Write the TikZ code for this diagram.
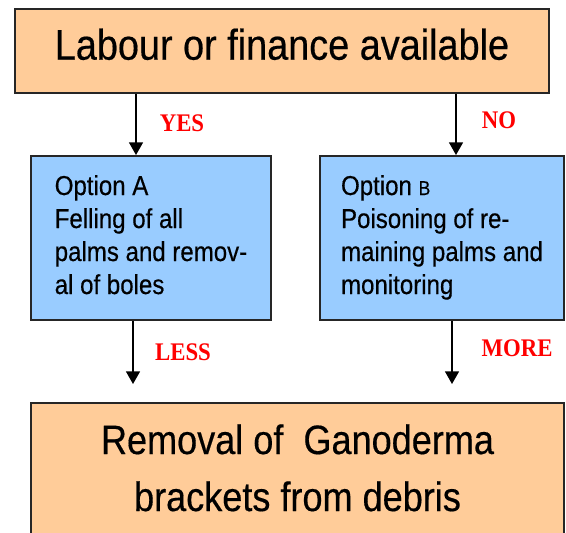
\documentclass[tikz,border=0pt]{standalone}
\usepackage{fontspec}
\setmainfont{Liberation Sans}[FakeStretch=0.88, FakeBold=0.4]
\newfontfamily\answerfont{Liberation Serif}[FakeStretch=0.9]
\usepackage{tikz}
\usetikzlibrary{positioning,arrows.meta}
\definecolor{peach}{HTML}{FFCC99}
\definecolor{skyblue}{HTML}{99CCFF}
\definecolor{answerred}{HTML}{FF0000}

\begin{document}
\begin{tikzpicture}[
      x=0.75pt, y=-0.75pt,
      box/.style={draw=black!85, line width=1.5pt, inner sep=0pt, anchor=north west},
      mainbox/.style={box, fill=peach},
      optbox/.style={box, fill=skyblue, align=left, text height=103.5pt, text depth=19.5pt,
                     font=\fontsize{20.5pt}{24.75pt}\selectfont},
      answer/.style={text=answerred, font=\answerfont\bfseries\fontsize{19pt}{19pt}\selectfont},
      >={Triangle[width=10.5pt,length=9.5pt]},
      arr/.style={->, line width=1.1pt},
    ]
    \useasboundingbox (0,0) rectangle (566,532);

    \node[mainbox, minimum width=400.5pt, text height=38pt, text depth=25pt,
          font=\fontsize{32.25pt}{36pt}\selectfont] (labour) at (14,8)
      {Labour or finance available};

    \node[optbox, minimum width=180pt] (optA) at (30,155)
      {Option A\\Felling of all\\palms and remov-\\al of boles};
    \node[optbox, minimum width=183pt] (optB) at (319,155)
      {Option {\fontsize{15pt}{15pt}\selectfont B}\\Poisoning of re-\\maining palms and\\monitoring};

    \node[mainbox, minimum width=399.75pt, align=center, text height=81pt, text depth=26.25pt,
          font=\fontsize{30.75pt}{42.75pt}\selectfont] (removal) at (30,402)
      {Removal of~\ Ganoderma\\brackets from debris};

    \coordinate (yesX) at (136,0);
    \coordinate (noX) at (456,0);
    \coordinate (lessEnd) at (133,384);
    \coordinate (moreEnd) at (452,384);

    \draw[arr] (labour.south -| yesX) -- (optA.north -| yesX);
    \draw[arr] (labour.south -| noX) -- (optB.north -| noX);
    \draw[arr] (optA.south -| lessEnd) -- (lessEnd);
    \draw[arr] (optB.south -| moreEnd) -- (moreEnd);

    \node[answer] (yes) at (182,123) {YES};
    \node[answer] (no) at (499,120) {NO};
    \node[answer] (less) at (183,352) {LESS};
    \node[answer] (more) at (517,348) {MORE};
  \end{tikzpicture}
\end{document}
